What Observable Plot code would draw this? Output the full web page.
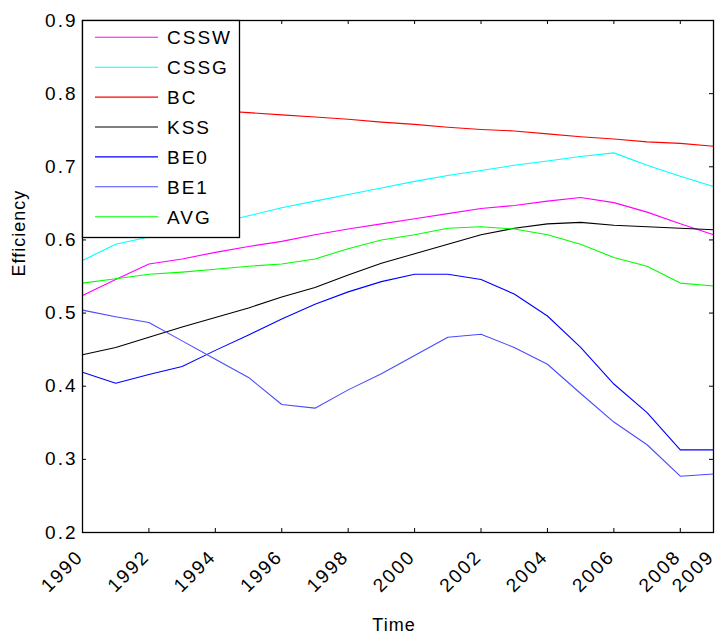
<!DOCTYPE html>
<html>
<head>
<meta charset="utf-8">
<script src="https://cdn.jsdelivr.net/npm/d3@7"></script>
<script src="https://cdn.jsdelivr.net/npm/@observablehq/plot@0.6"></script>
<style>
  html, body { margin: 0; padding: 0; background: white; }
</style>
</head>
<body>
<div id="chart"></div>
<script>
const years = [1990,1991,1992,1993,1994,1995,1996,1997,1998,1999,2000,2001,2002,2003,2004,2005,2006,2007,2008,2009];
const CSSW = [0.524,0.546,0.567,0.574,0.583,0.591,0.598,0.607,0.615,0.622,0.629,0.636,0.643,0.647,0.653,0.658,0.651,0.638,0.622,0.607];
const CSSG = [0.572,0.594,0.604,0.613,0.622,0.633,0.644,0.653,0.662,0.671,0.680,0.688,0.695,0.702,0.708,0.714,0.719,0.702,0.687,0.673];
const BC   = [0.790,0.787,0.784,0.781,0.777,0.774,0.771,0.768,0.765,0.761,0.758,0.754,0.751,0.749,0.745,0.741,0.738,0.734,0.732,0.728];
const KSS  = [0.443,0.453,0.467,0.481,0.494,0.507,0.522,0.535,0.552,0.568,0.581,0.594,0.607,0.616,0.622,0.624,0.620,0.618,0.616,0.614];
const BE0  = [0.419,0.404,0.416,0.427,0.449,0.470,0.492,0.512,0.529,0.543,0.553,0.553,0.546,0.526,0.496,0.453,0.403,0.364,0.313,0.313];
const BE1  = [0.504,0.495,0.487,0.462,0.437,0.412,0.375,0.370,0.395,0.417,0.442,0.467,0.471,0.453,0.430,0.390,0.351,0.320,0.277,0.280];
const AVG  = [0.541,0.547,0.553,0.556,0.560,0.564,0.567,0.574,0.588,0.600,0.607,0.616,0.618,0.615,0.607,0.594,0.576,0.564,0.541,0.537];

const seriesNames = ["CSSW","CSSG","BC","KSS","BE0","BE1","AVG"];
const seriesValues = [CSSW, CSSG, BC, KSS, BE0, BE1, AVG];
const seriesColors = ["#ff00ff","#00ffff","#ff0000","#000000","#0000ff","#4a4aff","#00ff00"];

const xTicks = [1990,1992,1994,1996,1998,2000,2002,2004,2006,2008,2009];
const yTicks = [0.2,0.3,0.4,0.5,0.6,0.7,0.8,0.9];

const rows = [];
seriesNames.forEach((name, s) => {
  years.forEach((yr, i) => rows.push({series: name, year: yr, value: seriesValues[s][i]}));
});

const font = "'Liberation Sans', Arial, sans-serif";

const chart = Plot.plot({
  width: 718,
  height: 634,
  marginLeft: 82,
  marginRight: 5,
  marginTop: 20,
  marginBottom: 102,
  style: {fontFamily: font, fontSize: "19px", background: "white", color: "black", letterSpacing: "2px"},
  x: {domain: [1990, 2009], axis: null},
  y: {domain: [0.2, 0.9], axis: null},
  color: {domain: seriesNames, range: seriesColors},
  marks: [
    Plot.lineY(rows, {x: "year", y: "value", z: "series", stroke: "series", strokeWidth: 1.1}),
    // inward ticks bottom/top
    Plot.ruleX(xTicks, {x: d => d, y1: 0.2, y2: 0.2, insetTop: -4, stroke: "black"}),
    Plot.ruleX(xTicks, {x: d => d, y1: 0.9, y2: 0.9, insetBottom: -4, stroke: "black"}),
    // inward ticks left/right
    Plot.ruleY(yTicks, {y: d => d, x1: 1990, x2: 1990, insetRight: -4, stroke: "black"}),
    Plot.ruleY(yTicks, {y: d => d, x1: 2009, x2: 2009, insetLeft: -4, stroke: "black"}),
    Plot.frame({stroke: "black", strokeWidth: 1.3}),
    // y tick labels
    Plot.text(yTicks, {y: d => d, frameAnchor: "left", dx: -5, textAnchor: "end", text: d => d.toFixed(1), fontSize: 19}),
    // x tick labels
    Plot.text(xTicks, {x: d => d, frameAnchor: "bottom", dy: 21, dx: -2.5, rotate: -45, textAnchor: "end", lineAnchor: "middle", text: d => String(d), fontSize: 19}),
    // axis labels
    Plot.text(["Efficiency"], {frameAnchor: "left", dx: -63, rotate: -90, text: d => d, fontSize: 18, lineAnchor: "middle"}),
    Plot.text(["Time"], {frameAnchor: "bottom", dy: 93, dx: -4, text: d => d, fontSize: 18, lineAnchor: "middle"})
  ]
});

document.getElementById("chart").appendChild(chart);

// tighter letter spacing for axis titles
d3.select(chart).selectAll("text").filter(function() { return this.textContent === "Efficiency" || this.textContent === "Time"; })
  .style("letter-spacing", "1px");

// legend box (top-left inside axes)
const svg = d3.select(chart);
const lg = svg.append("g").attr("font-family", font).attr("font-size", 19)
  .attr("text-anchor", "start").style("letter-spacing", "2px");
lg.append("rect").attr("x", 82.5).attr("y", 20.5).attr("width", 157).attr("height", 217)
  .attr("fill", "white").attr("stroke", "black").attr("stroke-width", 1.3);
seriesNames.forEach((name, k) => {
  const yy = 37.3 + 29.9 * k;
  lg.append("line").attr("x1", 95).attr("x2", 158).attr("y1", yy).attr("y2", yy)
    .attr("stroke", seriesColors[k]).attr("stroke-width", 1.1);
  lg.append("text").attr("x", 167).attr("y", yy + 7).attr("fill", "black")
    .attr("text-anchor", "start").text(name);
});
</script>
</body>
</html>
